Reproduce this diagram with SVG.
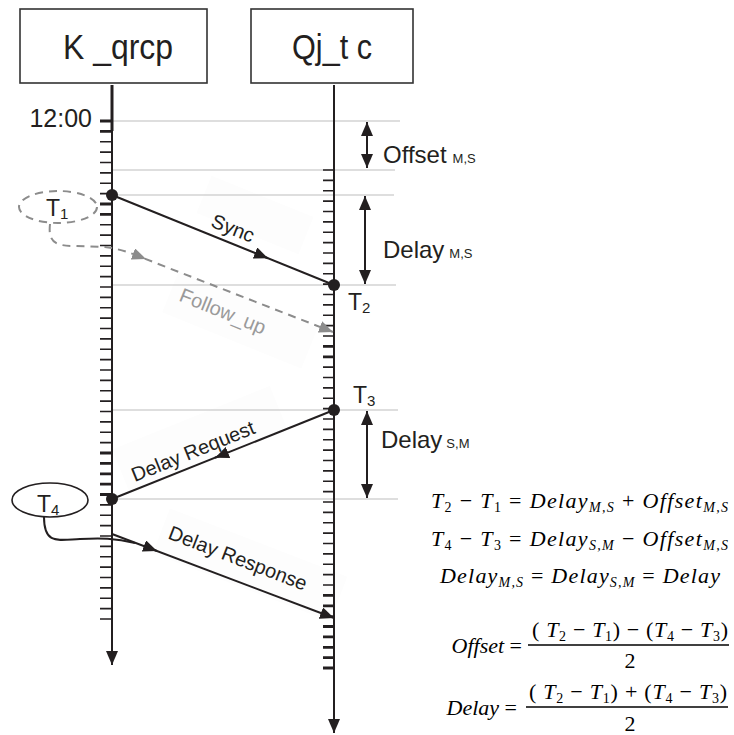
<svg xmlns="http://www.w3.org/2000/svg" width="734" height="735" viewBox="0 0 734 735">
<style>
  .box{fill:#fff;stroke:#333;stroke-width:1.6}
  .hdr{font-family:"Liberation Sans",Arial,sans-serif;font-size:35px;fill:#231f20}
  .lbl{font-family:"Liberation Sans",Arial,sans-serif;fill:#231f20}
  .msg{font-family:"Liberation Sans",Arial,sans-serif;font-size:20px;fill:#231f20}
  .life{stroke:#231f20;stroke-width:2;fill:none}
  .tick{stroke:#231f20;stroke-width:1.6;fill:none}
  .tickb{stroke:#231f20;stroke-width:2.8;fill:none}
  .grid{stroke:#bdbdbd;stroke-width:1;fill:none}
  .conn{stroke:#231f20;stroke-width:2;fill:none}
  .dash{stroke:#8c8c8c;stroke-width:2;fill:none;stroke-dasharray:8 6}
  .eq{font-family:"Liberation Serif","Times New Roman",serif;font-size:22px;fill:#000}
  .i{font-style:italic}
  .s{font-size:14px}
  .bg{fill:#fdfdfd}
</style>
<defs>
  <marker id="ah" markerUnits="userSpaceOnUse" markerWidth="14" markerHeight="12" viewBox="0 0 14 12" refX="14" refY="6" orient="auto-start-reverse">
    <path d="M0,0 L14,6 L0,12 z" fill="#231f20"/>
  </marker>
  <marker id="ahg" markerUnits="userSpaceOnUse" markerWidth="14" markerHeight="12" viewBox="0 0 14 12" refX="14" refY="6" orient="auto">
    <path d="M0,0 L14,6 L0,12 z" fill="#8c8c8c"/>
  </marker>
</defs>

<!-- faint label backgrounds -->
<g id="label-bg">
  <rect class="bg" x="-55" y="-20" width="110" height="40" transform="translate(255,215) rotate(22)"/>
  <rect class="bg" x="-75" y="-22" width="150" height="44" transform="translate(240,320) rotate(22)"/>
  <rect class="bg" x="-85" y="-24" width="170" height="48" transform="translate(200,440) rotate(-22)"/>
  <rect class="bg" x="-95" y="-24" width="190" height="48" transform="translate(250,565) rotate(21)"/>
</g>

<!-- grid lines -->
<g id="grid">
  <line class="grid" x1="112" y1="121" x2="400" y2="121"/>
  <line class="grid" x1="112" y1="170" x2="395" y2="170"/>
  <line class="grid" x1="112" y1="195" x2="394" y2="195"/>
  <line class="grid" x1="112" y1="285" x2="396" y2="285"/>
  <line class="grid" x1="112" y1="410" x2="398" y2="410"/>
  <line class="grid" x1="112" y1="499" x2="398" y2="499"/>
</g>

<g id="master">
  <rect class="box" x="20" y="9" width="187" height="74"/>
  <text class="hdr" x="118" y="59" text-anchor="middle" textLength="110" lengthAdjust="spacingAndGlyphs">K _qrcp</text>
  <line class="life" x1="112" y1="85" x2="112" y2="665" marker-end="url(#ah)"/>
  <line x1="112" y1="85" x2="112" y2="131" stroke="#231f20" stroke-width="3"/>
  <path class="tick" d="M100,141.8H112M100,152.1H112M100,162.5H112M100,172.9H112M100,183.3H112M100,193.6H112M100,224.8H112M100,235.1H112M100,245.5H112M100,255.9H112M100,266.3H112M100,276.6H112M100,287H112M100,297.4H112M100,307.8H112M100,318.1H112M100,328.5H112M100,338.9H112M100,349.3H112M100,359.6H112M100,370H112M100,380.4H112M100,390.8H112M100,401.1H112M100,411.5H112M100,421.9H112M100,432.3H112M100,442.6H112M100,504.9H112M100,515.3H112M100,525.6H112M100,536H112M100,546.4H112M100,556.8H112M100,567.1H112M100,577.5H112M100,587.9H112M100,598.3H112M100,608.6H112M100,619H112"/>
  <path class="tickb" d="M100,121H112M100,131.4H112M100,204H112M100,214.4H112M100,453H112M100,463.4H112M100,473.8H112M100,484.1H112M100,494.5H112"/>
  <text class="lbl" x="92" y="127" font-size="25" text-anchor="end">12:00</text>
</g>

<g id="slave">
  <rect class="box" x="251" y="9" width="162" height="74"/>
  <text class="hdr" x="332" y="59" text-anchor="middle" textLength="80" lengthAdjust="spacingAndGlyphs">Qj_t c</text>
  <line class="life" x1="334" y1="85" x2="334" y2="733" marker-end="url(#ah)"/>
  <path class="tick" d="M323,170H334M323,180.4H334M323,190.8H334M323,201.1H334M323,211.5H334M323,221.9H334M323,232.3H334M323,242.6H334M323,253H334M323,263.4H334M323,273.8H334M323,284.1H334M323,294.5H334M323,304.9H334M323,315.3H334M323,325.6H334M323,336H334M323,367.1H334M323,377.5H334M323,387.9H334M323,398.3H334M323,408.6H334M323,419H334M323,429.4H334M323,439.8H334M323,450.1H334M323,460.5H334M323,470.9H334M323,481.3H334M323,491.6H334M323,502H334M323,512.4H334M323,522.8H334M323,533.1H334M323,543.5H334M323,553.9H334M323,564.3H334M323,574.6H334M323,585H334M323,616.1H334"/>
  <path class="tickb" d="M323,346.4H334M323,356.8H334M323,595.4H334M323,605.8H334M323,626.5H334M323,636.9H334M323,647.3H334M323,657.6H334M323,668H334"/>
</g>

<g id="T1">
  <ellipse cx="58" cy="207" rx="39" ry="16" fill="none" stroke="#8c8c8c" stroke-width="2" stroke-dasharray="8 6"/>
  <text class="lbl" x="46" y="216" font-size="23">T<tspan font-size="15" dy="3">1</tspan></text>
</g>
<g id="T2"><text class="lbl" x="348" y="310" font-size="23">T<tspan font-size="15" dy="3">2</tspan></text></g>
<g id="T3"><text class="lbl" x="353" y="403" font-size="23">T<tspan font-size="15" dy="3">3</tspan></text></g>
<g id="T4">
  <ellipse cx="50" cy="500" rx="38" ry="17" fill="#fff" stroke="#231f20" stroke-width="1.6"/>
  <text class="lbl" x="37" y="512" font-size="23">T<tspan font-size="15" dy="3">4</tspan></text>
</g>

<g id="connectors">
  <!-- Sync -->
  <line class="conn" x1="112" y1="195" x2="334" y2="285"/>
  <path class="conn" d="M255,253 L268,258.3" marker-end="url(#ah)"/>
  <circle cx="112" cy="195" r="6" fill="#231f20"/>
  <circle cx="334" cy="285" r="6" fill="#231f20"/>
  <!-- Follow_up -->
  <path class="dash" d="M50,224 C48,242 55,246 75,246 L105,247 Q122,249 143,258 L333,332" marker-end="url(#ahg)"/>
  <path d="M133,254 L146,259" stroke="none" fill="none" marker-end="url(#ahg)"/>
  <!-- Delay Request -->
  <line class="conn" x1="334" y1="410" x2="112" y2="499"/>
  <path class="conn" d="M228,452.5 L215,457.7" marker-end="url(#ah)"/>
  <circle cx="334" cy="410" r="6" fill="#231f20"/>
  <circle cx="112" cy="499" r="6" fill="#231f20"/>
  <!-- Delay Response -->
  <path class="conn" d="M112,534 L334,618" marker-end="url(#ah)"/>
  <path class="conn" d="M144,546 L157,551" marker-end="url(#ah)"/>
  <path class="conn" d="M44,517 C44,545 58,540 80,539 C100,538 115,538 135,543" stroke-width="1.6"/>
  <!-- interval arrows -->
  <line class="conn" x1="367" y1="122" x2="367" y2="168" marker-start="url(#ah)" marker-end="url(#ah)"/>
  <line class="conn" x1="365" y1="196" x2="365" y2="284" marker-start="url(#ah)" marker-end="url(#ah)"/>
  <line class="conn" x1="367" y1="411" x2="367" y2="498" marker-start="url(#ah)" marker-end="url(#ah)"/>
</g>

<g id="msg-labels">
  <text class="msg" text-anchor="middle" transform="translate(233,228) rotate(22)" y="7">Sync</text>
  <text class="msg" text-anchor="middle" transform="translate(223,311) rotate(22)" y="7" style="fill:#9a9a9a">Follow_up</text>
  <text class="msg" text-anchor="middle" transform="translate(193,451) rotate(-22)" y="7">Delay Request</text>
  <text class="msg" text-anchor="middle" transform="translate(238,558) rotate(21)" y="7">Delay Response</text>
</g>

<g id="interval-labels">
  <text class="lbl" x="383" y="163" font-size="24">Offset<tspan font-size="13" dx="6">M,S</tspan></text>
  <text class="lbl" x="383" y="258" font-size="24">Delay<tspan font-size="13" dx="5">M,S</tspan></text>
  <text class="lbl" x="381" y="448" font-size="24">Delay<tspan font-size="13" dx="4">S,M</tspan></text>
</g>

<g id="equations">
  <text class="eq" x="431" y="508" textLength="297"><tspan class="i">T</tspan><tspan class="s" dy="4">2</tspan><tspan dy="-4"> − </tspan><tspan class="i">T</tspan><tspan class="s" dy="4">1</tspan><tspan dy="-4"> = </tspan><tspan class="i">Delay</tspan><tspan class="i s" dy="4">M,S</tspan><tspan dy="-4"> + </tspan><tspan class="i">Offset</tspan><tspan class="i s" dy="4">M,S</tspan></text>
  <text class="eq" x="431" y="546" textLength="297"><tspan class="i">T</tspan><tspan class="s" dy="4">4</tspan><tspan dy="-4"> − </tspan><tspan class="i">T</tspan><tspan class="s" dy="4">3</tspan><tspan dy="-4"> = </tspan><tspan class="i">Delay</tspan><tspan class="i s" dy="4">S,M</tspan><tspan dy="-4"> − </tspan><tspan class="i">Offset</tspan><tspan class="i s" dy="4">M,S</tspan></text>
  <text class="eq" x="440" y="583" textLength="280"><tspan class="i">Delay</tspan><tspan class="i s" dy="4">M,S</tspan><tspan dy="-4"> = </tspan><tspan class="i">Delay</tspan><tspan class="i s" dy="4">S,M</tspan><tspan dy="-4"> = </tspan><tspan class="i">Delay</tspan></text>

  <text class="eq" x="522" y="653" text-anchor="end" font-size="23"><tspan class="i">Offset</tspan> =</text>
  <text class="eq" x="532" y="637" textLength="196"><tspan>( </tspan><tspan class="i">T</tspan><tspan class="s" dy="4">2</tspan><tspan dy="-4"> − </tspan><tspan class="i">T</tspan><tspan class="s" dy="4">1</tspan><tspan dy="-4">) − (</tspan><tspan class="i">T</tspan><tspan class="s" dy="4">4</tspan><tspan dy="-4"> − </tspan><tspan class="i">T</tspan><tspan class="s" dy="4">3</tspan><tspan dy="-4">)</tspan></text>
  <line x1="528" y1="645" x2="729" y2="645" stroke="#000" stroke-width="1.5"/>
  <text class="eq" x="630" y="668" text-anchor="middle">2</text>

  <text class="eq" x="517" y="715" text-anchor="end" font-size="23"><tspan class="i">Delay</tspan> =</text>
  <text class="eq" x="529" y="699" textLength="198"><tspan>( </tspan><tspan class="i">T</tspan><tspan class="s" dy="4">2</tspan><tspan dy="-4"> − </tspan><tspan class="i">T</tspan><tspan class="s" dy="4">1</tspan><tspan dy="-4">) + (</tspan><tspan class="i">T</tspan><tspan class="s" dy="4">4</tspan><tspan dy="-4"> − </tspan><tspan class="i">T</tspan><tspan class="s" dy="4">3</tspan><tspan dy="-4">)</tspan></text>
  <line x1="526" y1="707" x2="728" y2="707" stroke="#000" stroke-width="1.5"/>
  <text class="eq" x="630" y="731" text-anchor="middle">2</text>
</g>
</svg>
